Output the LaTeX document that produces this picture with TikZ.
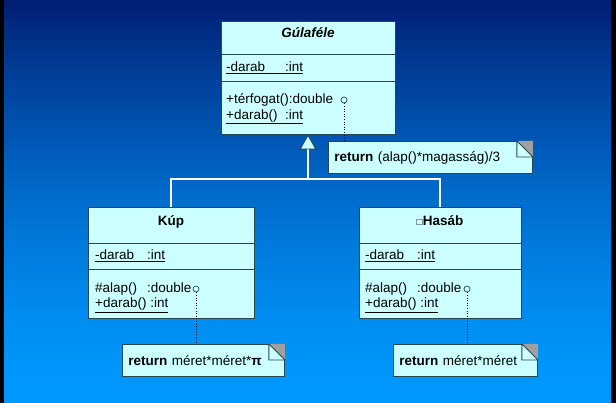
\documentclass[tikz,border=0pt]{standalone}
\usepackage{fontspec}
\setmainfont{Liberation Sans}
\usetikzlibrary{arrows.meta, positioning, calc}

\definecolor{umlfill}{RGB}{204,255,255}
\definecolor{umledge}{RGB}{40,70,80}
\definecolor{umlcorner}{RGB}{160,160,160}

% background bands, top to bottom
\definecolor{bgs00}{RGB}{0,32,118}
\definecolor{bgs01}{RGB}{0,36,123}
\definecolor{bgs02}{RGB}{0,41,128}
\definecolor{bgs03}{RGB}{0,45,133}
\definecolor{bgs04}{RGB}{0,50,138}
\definecolor{bgs05}{RGB}{0,54,143}
\definecolor{bgs06}{RGB}{0,58,147}
\definecolor{bgs07}{RGB}{0,62,152}
\definecolor{bgs08}{RGB}{0,66,157}
\definecolor{bgs09}{RGB}{0,70,161}
\definecolor{bgs10}{RGB}{0,74,166}
\definecolor{bgs11}{RGB}{0,78,170}
\definecolor{bgs12}{RGB}{0,82,174}
\definecolor{bgs13}{RGB}{0,85,179}
\definecolor{bgs14}{RGB}{0,89,183}
\definecolor{bgs15}{RGB}{0,93,187}
\definecolor{bgs16}{RGB}{0,96,191}
\definecolor{bgs17}{RGB}{0,100,195}
\definecolor{bgs18}{RGB}{0,103,199}
\definecolor{bgs19}{RGB}{0,107,202}
\definecolor{bgs20}{RGB}{0,110,206}
\definecolor{bgs21}{RGB}{0,113,210}
\definecolor{bgs22}{RGB}{0,116,213}
\definecolor{bgs23}{RGB}{0,119,217}
\definecolor{bgs24}{RGB}{0,122,220}
\definecolor{bgs25}{RGB}{0,125,223}
\definecolor{bgs26}{RGB}{0,127,226}
\definecolor{bgs27}{RGB}{0,130,229}
\definecolor{bgs28}{RGB}{0,133,232}
\definecolor{bgs29}{RGB}{0,135,235}
\definecolor{bgs30}{RGB}{0,137,237}
\definecolor{bgs31}{RGB}{0,140,240}
\definecolor{bgs32}{RGB}{0,142,242}
\definecolor{bgs33}{RGB}{0,144,244}
\definecolor{bgs34}{RGB}{0,145,246}
\definecolor{bgs35}{RGB}{0,147,248}
\definecolor{bgs36}{RGB}{0,149,250}
\definecolor{bgs37}{RGB}{0,150,252}
\definecolor{bgs38}{RGB}{0,151,253}
\definecolor{bgs39}{RGB}{0,152,254}
\definecolor{bgs40}{RGB}{0,153,255}

\newcommand\umlfont{\fontsize{13.5}{16}\selectfont}

\tikzset{
  classbox/.style={draw=umledge, fill=umlfill, line width=0.9pt, inner sep=0pt},
  classrule/.style={draw=umledge, line width=0.9pt},
  classname/.style={anchor=base, inner sep=0pt, font=\umlfont\bfseries},
  member/.style={anchor=base west, inner sep=0pt, font=\umlfont},
  notebox/.style={draw=umledge, fill=umlfill, line width=0.9pt, anchor=north west,
    align=left, inner xsep=6pt, inner ysep=0pt, minimum height=32pt, font=\umlfont},
  pinhole/.style={circle, draw=umledge, fill=umlfill, line width=0.7pt, minimum size=6pt, inner sep=0pt},
  notelink/.style={draw=black, line width=0.9pt, dash pattern=on 1pt off 1.6pt},
  genline/.style={draw=white, line width=1.3pt},
}

\begin{document}
\begin{tikzpicture}[x=1pt, y=-1pt]
  \useasboundingbox (0,0) rectangle (616,403);

  % slide background
  \fill[bgs00] (0,0) rectangle (616,10.5);
  \fill[bgs01] (0,10) rectangle (616,20.5);
  \fill[bgs02] (0,20) rectangle (616,30.5);
  \fill[bgs03] (0,30) rectangle (616,40.5);
  \fill[bgs04] (0,40) rectangle (616,50.5);
  \fill[bgs05] (0,50) rectangle (616,60.5);
  \fill[bgs06] (0,60) rectangle (616,70.5);
  \fill[bgs07] (0,70) rectangle (616,80.5);
  \fill[bgs08] (0,80) rectangle (616,90.5);
  \fill[bgs09] (0,90) rectangle (616,100.5);
  \fill[bgs10] (0,100) rectangle (616,110.5);
  \fill[bgs11] (0,110) rectangle (616,120.5);
  \fill[bgs12] (0,120) rectangle (616,130.5);
  \fill[bgs13] (0,130) rectangle (616,140.5);
  \fill[bgs14] (0,140) rectangle (616,150.5);
  \fill[bgs15] (0,150) rectangle (616,160.5);
  \fill[bgs16] (0,160) rectangle (616,170.5);
  \fill[bgs17] (0,170) rectangle (616,180.5);
  \fill[bgs18] (0,180) rectangle (616,190.5);
  \fill[bgs19] (0,190) rectangle (616,200.5);
  \fill[bgs20] (0,200) rectangle (616,210.5);
  \fill[bgs21] (0,210) rectangle (616,220.5);
  \fill[bgs22] (0,220) rectangle (616,230.5);
  \fill[bgs23] (0,230) rectangle (616,240.5);
  \fill[bgs24] (0,240) rectangle (616,250.5);
  \fill[bgs25] (0,250) rectangle (616,260.5);
  \fill[bgs26] (0,260) rectangle (616,270.5);
  \fill[bgs27] (0,270) rectangle (616,280.5);
  \fill[bgs28] (0,280) rectangle (616,290.5);
  \fill[bgs29] (0,290) rectangle (616,300.5);
  \fill[bgs30] (0,300) rectangle (616,310.5);
  \fill[bgs31] (0,310) rectangle (616,320.5);
  \fill[bgs32] (0,320) rectangle (616,330.5);
  \fill[bgs33] (0,330) rectangle (616,340.5);
  \fill[bgs34] (0,340) rectangle (616,350.5);
  \fill[bgs35] (0,350) rectangle (616,360.5);
  \fill[bgs36] (0,360) rectangle (616,370.5);
  \fill[bgs37] (0,370) rectangle (616,380.5);
  \fill[bgs38] (0,380) rectangle (616,390.5);
  \fill[bgs39] (0,390) rectangle (616,400.5);
  \fill[bgs40] (0,400) rectangle (616,403);
  \fill[black] (0,0) rectangle (3.5,403);
  \fill[black] (610.5,0) rectangle (616,403);

  % Gulafele
  \node[classbox, minimum width=174pt, minimum height=113pt] (gula) at (308,77.5) {};
  \draw[classrule] (gula.west |- 0,54) -- (gula.east |- 0,54);
  \draw[classrule] (gula.west |- 0,81) -- (gula.east |- 0,81);
  \node[classname] (gtitle) at (308,37.3) {\textit{Gúlaféle}};
  \node[member] (gattr) at (226,71.5) {\underline{\makebox[59pt][l]{-darab}:int}};
  \node[member] (gop1) at (226,104) {+térfogat():double};
  \node[member] (gop2) at (226,119.5) {\underline{\makebox[59pt][l]{+darab()}:int}};
  \node[pinhole] (gpin) at (344,100) {};

  % Kup
  \node[classbox, minimum width=166pt, minimum height=111pt] (kup) at (171,262.5) {};
  \draw[classrule] (kup.west |- 0,243) -- (kup.east |- 0,243);
  \draw[classrule] (kup.west |- 0,269) -- (kup.east |- 0,269);
  \node[classname] (ktitle) at (171,226) {Kúp};
  \node[member] (kattr) at (95,260) {\underline{\makebox[52pt][l]{-darab}:int}};
  \node[member] (kop1) at (95,292.5) {\makebox[52pt][l]{\#alap()}:double};
  \node[member] (kop2) at (95,308) {\underline{+darab() :int}};
  \node[pinhole] (kpin) at (196,289) {};

  % Hasab
  \node[classbox, minimum width=162pt, minimum height=111pt] (has) at (440,262.5) {};
  \draw[classrule] (has.west |- 0,243) -- (has.east |- 0,243);
  \draw[classrule] (has.west |- 0,269) -- (has.east |- 0,269);
  \node[classname] (htitle) at (440,226) {{\fontsize{10}{12}\selectfont □}Hasáb};
  \node[member] (hattr) at (365,260) {\underline{\makebox[52pt][l]{-darab}:int}};
  \node[member] (hop1) at (365,292.5) {\makebox[52pt][l]{\#alap()}:double};
  \node[member] (hop2) at (365,308) {\underline{+darab() :int}};
  \node[pinhole] (hpin) at (467,289) {};

  % notes
  \node[notebox, minimum width=204pt, text width=192pt] (gnote) at (328,141) {\textbf{return} (alap()*magasság)/3};
  \node[notebox, minimum width=162pt, text width=150pt] (knote) at (122,344) {\textbf{return} méret*méret*\textbf{π}};
  \node[notebox, minimum width=144pt, text width=132pt] (hnote) at (393,344) {\textbf{return} méret*méret};
  \foreach \n in {gnote,knote,hnote} {
    \fill[umlcorner] ([xshift=-16pt]\n.north east) -- (\n.north east) -- ([yshift=-16pt]\n.north east) -- cycle;
    \draw[umledge, line width=0.9pt, line join=round] ([xshift=-16pt]\n.north east) -- ([xshift=-16pt,yshift=-16pt]\n.north east)
      -- ([yshift=-16pt]\n.north east) -- cycle;
  }

  % note links
  \draw[notelink] (gpin.south) -- (gpin.south |- gnote.north);
  \draw[notelink] (kpin.south) -- (kpin.south |- knote.north);
  \draw[notelink] (hpin.south) -- (hpin.south |- hnote.north);

  % generalization
  \coordinate (fork) at (gula.south |- 0,179);
  \draw[genline] (kup.north) -- (kup.north |- fork) -- (has.north |- fork) -- (has.north);
  \draw[genline, -{Triangle[length=15pt, width=17pt, fill=umlfill, color=umledge, line width=0.9pt]}] (fork) -- (gula.south);
\end{tikzpicture}
\end{document}
